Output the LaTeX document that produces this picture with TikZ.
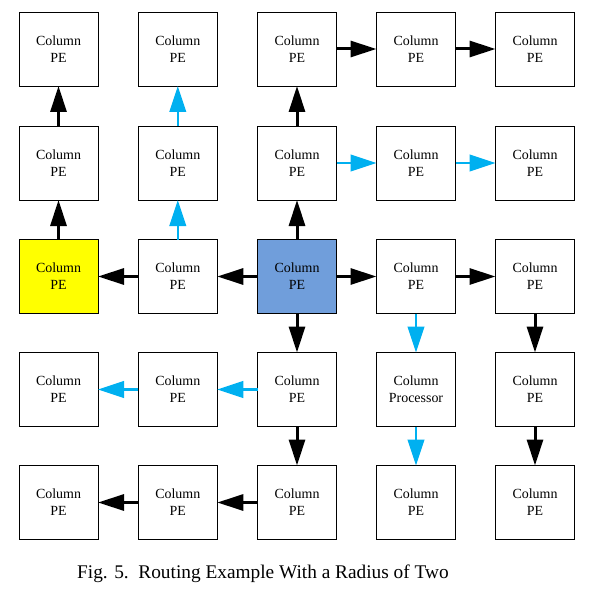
\documentclass[tikz,border=0pt]{standalone}
\usepackage{fontspec}
\setmainfont{Liberation Serif}
\usetikzlibrary{arrows.meta}
\definecolor{peblue}{RGB}{112,158,219}
\definecolor{pecyan}{RGB}{0,176,240}
\definecolor{peyellow}{RGB}{255,255,0}
\tikzset{
  pe/.style={draw=black, line width=0.9bp, minimum width=79bp, minimum height=74bp,
    inner sep=0pt, outer sep=0pt, align=center, font=\fontsize{14}{17}\selectfont, fill=white},
  blk/.style={line width=3bp, draw=black, -{Triangle[length=26bp,width=16bp]}},
  cyn/.style={line width=2.5bp, draw=pecyan, -{Triangle[length=26bp,width=16.5bp]}, pecyan},
}
\begin{document}
\begin{tikzpicture}[x=1bp,y=-1bp]
\useasboundingbox (0,0) rectangle (590,593);
% centers
\foreach \c/\x in {1/58.5,2/177.8,3/297,4/416,5/535}{
  \foreach \r/\y in {1/49,2/163,3/276.5,4/389.5,5/502.5}{
    \coordinate (p\c\r) at (\x,\y);
  }
}
\foreach \c in {1,...,5}{
  \foreach \r in {1,...,5}{
    \ifnum\c=1 \ifnum\r=3 \def\fc{peyellow}\else\def\fc{white}\fi
    \else\ifnum\c=3 \ifnum\r=3 \def\fc{peblue}\else\def\fc{white}\fi
    \else\def\fc{white}\fi\fi
    \ifnum\c=4 \ifnum\r=4
      \node[pe, fill=\fc] (n\c\r) at (p\c\r) {Column\\Processor};
    \else
      \node[pe, fill=\fc] (n\c\r) at (p\c\r) {Column\\PE};
    \fi\else
      \node[pe, fill=\fc] (n\c\r) at (p\c\r) {Column\\PE};
    \fi
  }
}
% row 1
\draw[blk] (n31.east) -- (n41.west);
\draw[blk] (n41.east) -- (n51.west);
% row 2 -> row 1
\draw[blk] (n12.north) -- (n11.south);
\draw[cyn] (n22.north) -- (n21.south);
\draw[blk] (n32.north) -- (n31.south);
% row 2
\draw[cyn] (n32.east) -- (n42.west);
\draw[cyn] (n42.east) -- (n52.west);
% row 3 -> row 2
\draw[blk] (n13.north) -- (n12.south);
\draw[cyn] (n23.north) -- (n22.south);
\draw[blk] (n33.north) -- (n32.south);
% row 3
\draw[blk] (n33.west) -- (n23.east);
\draw[blk] (n23.west) -- (n13.east);
\draw[blk] (n33.east) -- (n43.west);
\draw[blk] (n43.east) -- (n53.west);
% row 3 -> row 4
\draw[blk] (n33.south) -- (n34.north);
\draw[cyn] (n43.south) -- (n44.north);
\draw[blk] (n53.south) -- (n54.north);
% row 4
\draw[cyn] (n34.west) -- (n24.east);
\draw[cyn] (n24.west) -- (n14.east);
% row 4 -> row 5
\draw[blk] (n34.south) -- (n35.north);
\draw[cyn] (n44.south) -- (n45.north);
\draw[blk] (n54.south) -- (n55.north);
% row 5
\draw[blk] (n35.west) -- (n25.east);
\draw[blk] (n25.west) -- (n15.east);
% caption
\node[anchor=base west, inner sep=0pt, font=\fontsize{19.4}{23}\selectfont] (cap) at (77,578.5) {Fig. 5.\ \ Routing Example With a Radius of Two};
\end{tikzpicture}
\end{document}
